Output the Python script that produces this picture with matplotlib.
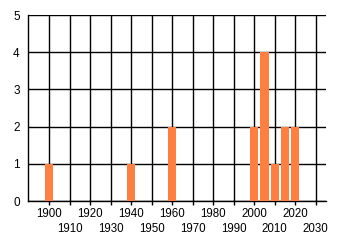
import numpy as np
import matplotlib
matplotlib.use("Agg")
import matplotlib.pyplot as plt

# data
years = [1900, 1940, 1960, 2000, 2005, 2010, 2015, 2020]
counts = [1, 1, 2, 2, 4, 1, 2, 2]
even_years = list(range(1900, 2021, 20))
odd_years = list(range(1910, 2031, 20))

plt.rcParams['font.family'] = ['Liberation Sans', 'DejaVu Sans']

fig = plt.figure(figsize=(3.4, 2.45), dpi=100)
ax = fig.add_axes([28/340, 44/245, 298/340, 186/245])

ax.bar(years, counts, width=4, color='#FF7F40', zorder=3)

ax.set_xlim(1889.6, 2035)
ax.set_ylim(0, 5)
# alternate rows of year labels
ax.set_xticks(even_years)
ax.set_xticklabels([str(y) for y in even_years], fontsize=8.3)
ax.set_xticks(odd_years, minor=True)
ax.set_xticklabels([str(y) for y in odd_years], minor=True, fontsize=8.3)
ax.set_yticks(range(0, 6))
ax.set_yticklabels([str(v) for v in range(0, 6)], fontsize=8.5)

ax.grid(True, which='both', axis='x', color='black', linewidth=1, zorder=0)
ax.grid(True, axis='y', color='black', linewidth=1, zorder=0)
ax.set_axisbelow(True)
for s in ['top', 'right']:
    ax.spines[s].set_visible(False)
for s in ['left', 'bottom']:
    ax.spines[s].set_linewidth(1)
ax.tick_params(axis='x', which='major', length=3, width=1, pad=2, colors='black')
ax.tick_params(axis='x', which='minor', length=3, width=1, pad=13, colors='black')
ax.tick_params(axis='y', length=0, pad=6)

fig.savefig("out.png", dpi=100)
